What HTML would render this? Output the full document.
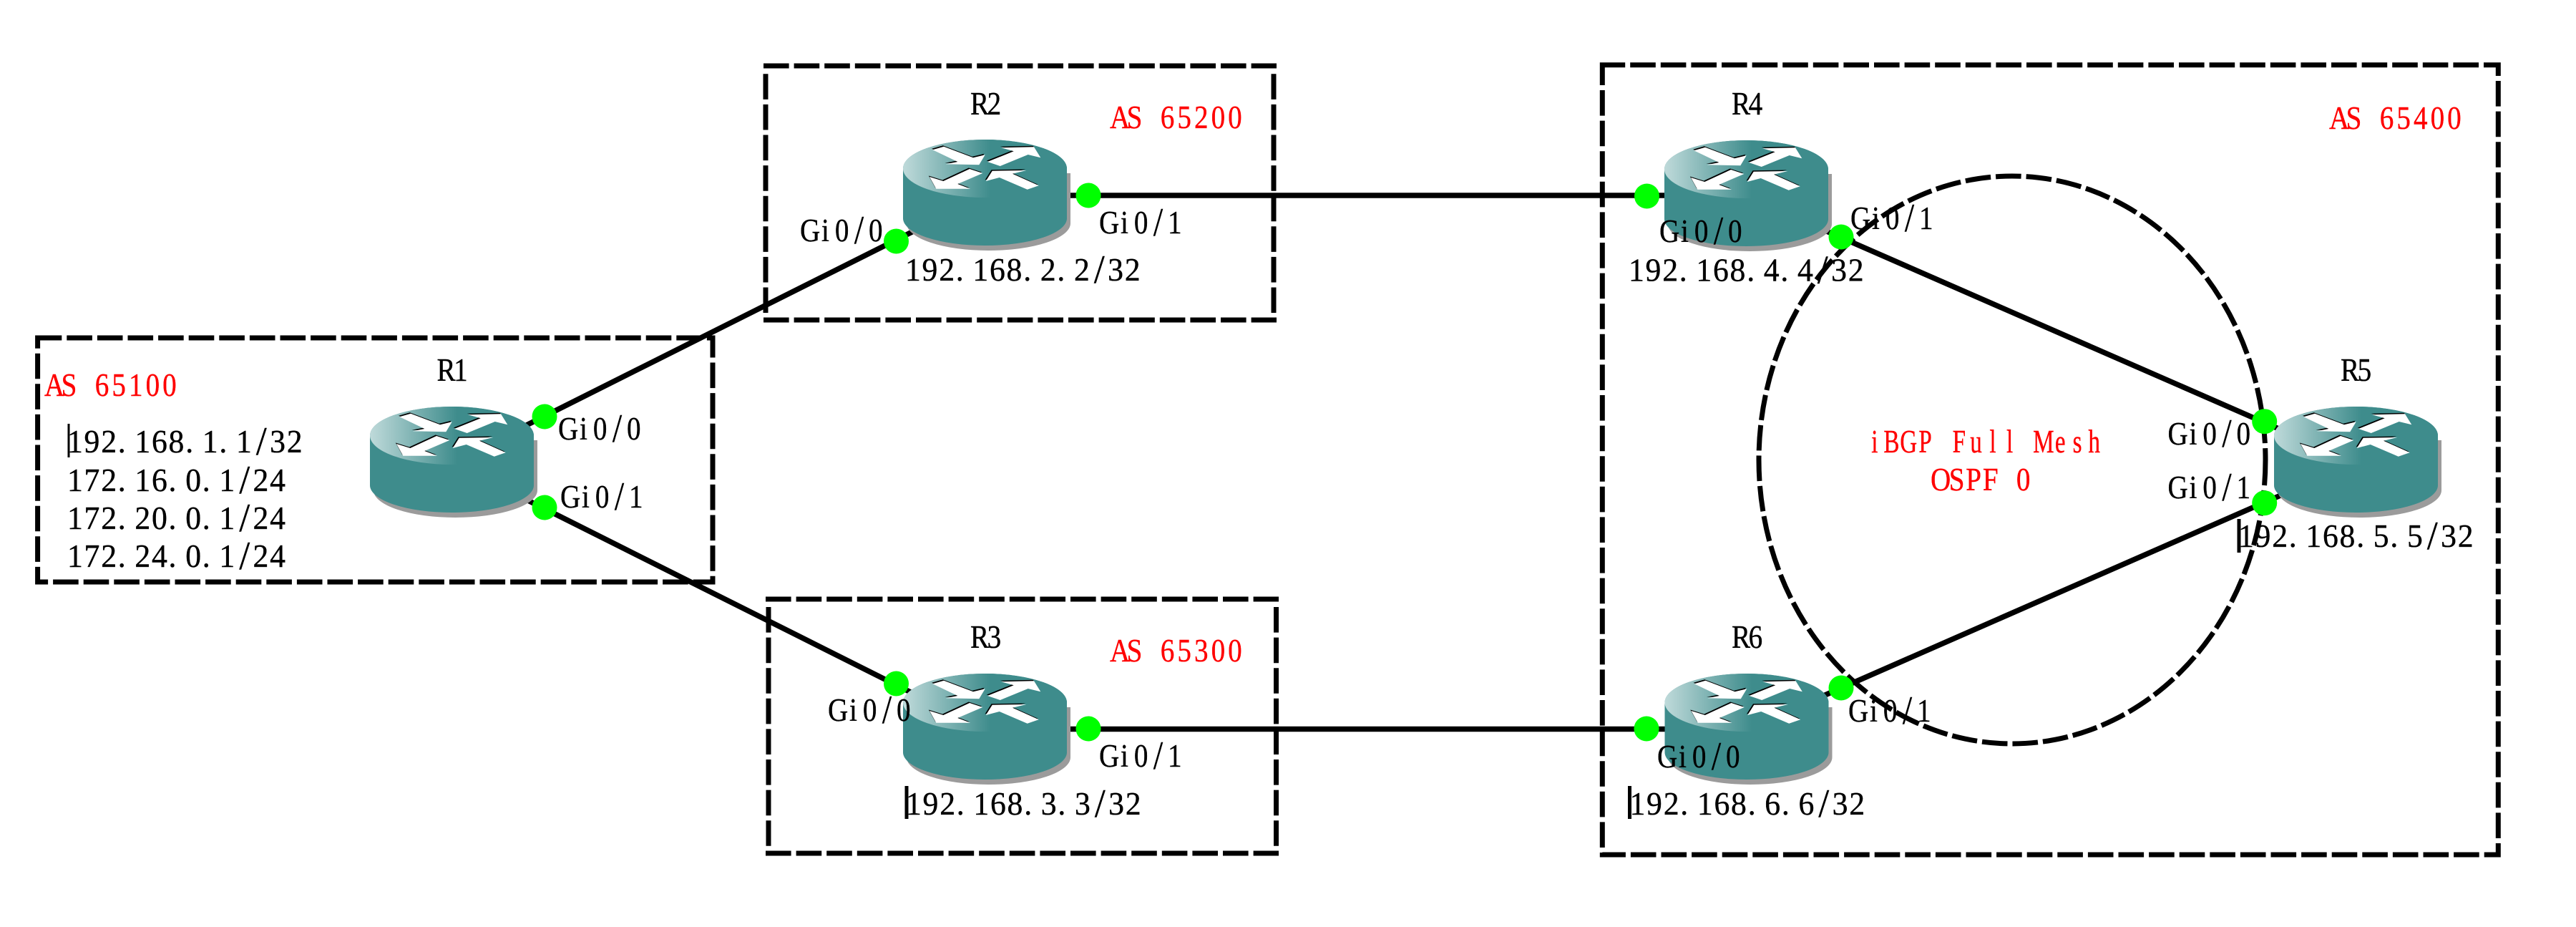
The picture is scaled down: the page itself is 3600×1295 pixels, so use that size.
<!DOCTYPE html>
<html>
<head>
<meta charset="utf-8">
<title>BGP topology</title>
<style>
html,body{margin:0;padding:0;background:#fff;}
svg{display:block;}
text{font-family:"Liberation Serif","Noto Serif CJK SC",serif;font-size:46px;fill:#000;stroke:#000;stroke-width:.4;}
text.r{fill:#f00;stroke:#f00;}
.box{fill:none;stroke:#000;stroke-width:7;stroke-dasharray:35.6 7;}
.ln{stroke:#000;stroke-width:7.5;fill:none;}
.dot{fill:#0f0;}
.s{font-size:56px;}
</style>
</head>
<body>
<svg width="3600" height="1295" viewBox="0 0 3600 1295" xmlns="http://www.w3.org/2000/svg">
<defs>
<linearGradient id="g" gradientUnits="userSpaceOnUse" x1="0" y1="0" x2="122" y2="0">
<stop offset="0" stop-color="#bfdada"/><stop offset="1" stop-color="#3e8c8c"/>
</linearGradient>
<g id="arrows">
<polygon points="41.3,14.3 57,9.7 98,25.3 114.7,21.3 106.3,35.3 59.7,34.3 76.3,31"/>
<polygon points="118,31 154.7,16.3 137,11.3 183,10.3 192.3,25.3 174.7,21 135.7,37"/>
<polygon points="111.3,47 93,41 56.3,58 37,52 46.3,68.7 94,68.7 76.3,62"/>
<polygon points="115.7,58 124.7,43.7 172.3,43 153,47.7 189.7,64.3 173.7,69.7 134.7,53"/>
</g>
<g id="router">
<path d="M5,47 V117 A114.5,38 0 0 0 234,117 V47 Z" fill="#9b9b9b"/>
<path d="M0,40.5 V110 A114.5,38 0 0 0 229,110 V40.5 A114.5,40.5 0 0 0 0,40.5 Z" fill="#3e8c8c"/>
<ellipse cx="114.5" cy="40.5" rx="114.5" ry="40.5" fill="url(#g)"/>
<use href="#arrows" x="-1.2" y="-1.5" fill="#000"/>
<use href="#arrows" fill="#fff"/>
</g>
</defs>

<rect width="3600" height="1295" fill="#fff"/>

<!-- AS boxes -->
<path class="box" d="M52.6,472 H996 V813 H52.6 Z" stroke-dashoffset="1.9"/>
<path class="box" d="M2239.3,90.7 H3491.3 V1194 H2239.3 Z" stroke-dashoffset="3.7"/>
<g class="box">
<line x1="1067" y1="92" x2="1784" y2="92"/>
<line x1="1067" y1="447" x2="1784" y2="447"/>
<line x1="1070" y1="103.3" x2="1070" y2="437"/>
<line x1="1780" y1="103.3" x2="1780" y2="437"/>
<line x1="1070" y1="837" x2="1787" y2="837"/>
<line x1="1070" y1="1192" x2="1787" y2="1192"/>
<line x1="1074" y1="848" x2="1074" y2="1182"/>
<line x1="1783.5" y1="848" x2="1783.5" y2="1182"/>
</g>

<!-- iBGP ellipse -->
<ellipse class="box" cx="2812" cy="642.5" rx="354" ry="396.5"/>

<!-- links -->
<g class="ln">
<line x1="632" y1="646" x2="1376.5" y2="273"/>
<line x1="632" y1="646" x2="1376.5" y2="1019"/>
<line x1="1376.5" y1="273" x2="2440.5" y2="273"/>
<line x1="1376.5" y1="1018.5" x2="2441" y2="1018.5"/>
<line x1="2440.5" y1="274" x2="3292" y2="646"/>
<line x1="2441" y1="1019" x2="3292" y2="646"/>
</g>

<!-- routers -->
<use href="#router" x="517" y="568"/>
<use href="#router" x="1262" y="195"/>
<use href="#router" x="1262" y="941"/>
<use href="#router" x="2326" y="196"/>
<use href="#router" x="3178" y="568"/>
<use href="#router" x="2326.5" y="941"/>

<!-- interface dots -->
<g class="dot">
<circle cx="761" cy="582" r="17.5"/>
<circle cx="761" cy="709" r="17.5"/>
<circle cx="1252.5" cy="337" r="17.5"/>
<circle cx="1521" cy="273" r="17.5"/>
<circle cx="1252.5" cy="955" r="17.5"/>
<circle cx="1521" cy="1018" r="17.5"/>
<circle cx="2301.5" cy="274" r="17.5"/>
<circle cx="2573" cy="331" r="17.5"/>
<circle cx="3164.7" cy="588.7" r="17.5"/>
<circle cx="3164.7" cy="702.7" r="17.5"/>
<circle cx="2301" cy="1018" r="17.5"/>
<circle cx="2573" cy="961" r="17.5"/>
</g>

<!-- text cursors -->
<rect x="94.5" y="592" width="3" height="47" fill="#000"/>
<rect x="1264.5" y="1098" width="5" height="46" fill="#000"/>
<rect x="3126.5" y="725" width="5" height="47" fill="#000"/>
<rect x="2275" y="1098" width="5" height="46" fill="#000"/>

<!-- IP labels -->
<g>
<text transform="translate(94,632) scale(.95,1)" x="0 24.8 49.7 74.5 99.4 124.2 149 173.9 198.7 223.6 248.4 277.8 298.1 322.9">192.168.1.1<tspan class="s" dy="3">/</tspan><tspan dy="-3">32</tspan></text>
<text transform="translate(94,686) scale(.95,1)" x="0 24.8 49.7 74.5 99.4 124.2 149 173.9 198.7 223.6 253 273.2 298.1">172.16.0.1<tspan class="s" dy="3">/</tspan><tspan dy="-3">24</tspan></text>
<text transform="translate(94,739) scale(.95,1)" x="0 24.8 49.7 74.5 99.4 124.2 149 173.9 198.7 223.6 253 273.2 298.1">172.20.0.1<tspan class="s" dy="3">/</tspan><tspan dy="-3">24</tspan></text>
<text transform="translate(94,792) scale(.95,1)" x="0 24.8 49.7 74.5 99.4 124.2 149 173.9 198.7 223.6 253 273.2 298.1">172.24.0.1<tspan class="s" dy="3">/</tspan><tspan dy="-3">24</tspan></text>
<text transform="translate(1265,392) scale(.95,1)" x="0 24.8 49.7 74.5 99.4 124.2 149 173.9 198.7 223.6 248.4 277.8 298.1 322.9">192.168.2.2<tspan class="s" dy="3">/</tspan><tspan dy="-3">32</tspan></text>
<text transform="translate(1266,1138) scale(.95,1)" x="0 24.8 49.7 74.5 99.4 124.2 149 173.9 198.7 223.6 248.4 277.8 298.1 322.9">192.168.3.3<tspan class="s" dy="3">/</tspan><tspan dy="-3">32</tspan></text>
<text transform="translate(2276,392.5) scale(.95,1)" x="0 24.8 49.7 74.5 99.4 124.2 149 173.9 198.7 223.6 248.4 277.8 298.1 322.9">192.168.4.4<tspan class="s" dy="3">/</tspan><tspan dy="-3">32</tspan></text>
<text transform="translate(3128,764) scale(.95,1)" x="0 24.8 49.7 74.5 99.4 124.2 149 173.9 198.7 223.6 248.4 277.8 298.1 322.9">192.168.5.5<tspan class="s" dy="3">/</tspan><tspan dy="-3">32</tspan></text>
<text transform="translate(2277.5,1138) scale(.95,1)" x="0 24.8 49.7 74.5 99.4 124.2 149 173.9 198.7 223.6 248.4 277.8 298.1 322.9">192.168.6.6<tspan class="s" dy="3">/</tspan><tspan dy="-3">32</tspan></text>
</g>

<!-- router names -->
<text transform="translate(610.5,532) scale(.85,1)" x="0 27.8">R1</text>
<text transform="translate(1356,160) scale(.85,1)" x="0 27.8">R2</text>
<text transform="translate(1356,905) scale(.85,1)" x="0 27.8">R3</text>
<text transform="translate(2420,160) scale(.85,1)" x="0 27.8">R4</text>
<text transform="translate(3271,532) scale(.85,1)" x="0 27.8">R5</text>
<text transform="translate(2420,905) scale(.85,1)" x="0 27.8">R6</text>

<!-- interface names -->
<text transform="translate(780,614) scale(.85,1)" x="0 35.3 57.5 89.3 113">Gi0<tspan class="s" dy="3">/</tspan><tspan dy="-3">0</tspan></text>
<text transform="translate(783,709) scale(.85,1)" x="0 35.3 57.5 89.3 113">Gi0<tspan class="s" dy="3">/</tspan><tspan dy="-3">1</tspan></text>
<text transform="translate(1118,337) scale(.85,1)" x="0 35.3 57.5 89.3 113">Gi0<tspan class="s" dy="3">/</tspan><tspan dy="-3">0</tspan></text>
<text transform="translate(1536,326) scale(.85,1)" x="0 35.3 57.5 89.3 113">Gi0<tspan class="s" dy="3">/</tspan><tspan dy="-3">1</tspan></text>
<text transform="translate(1157,1007) scale(.85,1)" x="0 35.3 57.5 89.3 113">Gi0<tspan class="s" dy="3">/</tspan><tspan dy="-3">0</tspan></text>
<text transform="translate(1536,1071) scale(.85,1)" x="0 35.3 57.5 89.3 113">Gi0<tspan class="s" dy="3">/</tspan><tspan dy="-3">1</tspan></text>
<text transform="translate(2319,338) scale(.85,1)" x="0 35.3 57.5 89.3 113">Gi0<tspan class="s" dy="3">/</tspan><tspan dy="-3">0</tspan></text>
<text transform="translate(2586,320) scale(.85,1)" x="0 35.3 57.5 89.3 113">Gi0<tspan class="s" dy="3">/</tspan><tspan dy="-3">1</tspan></text>
<text transform="translate(3029.5,621) scale(.85,1)" x="0 35.3 57.5 89.3 113">Gi0<tspan class="s" dy="3">/</tspan><tspan dy="-3">0</tspan></text>
<text transform="translate(3029.5,696) scale(.85,1)" x="0 35.3 57.5 89.3 113">Gi0<tspan class="s" dy="3">/</tspan><tspan dy="-3">1</tspan></text>
<text transform="translate(2316,1072) scale(.85,1)" x="0 35.3 57.5 89.3 113">Gi0<tspan class="s" dy="3">/</tspan><tspan dy="-3">0</tspan></text>
<text transform="translate(2583,1008) scale(.85,1)" x="0 35.3 57.5 89.3 113">Gi0<tspan class="s" dy="3">/</tspan><tspan dy="-3">1</tspan></text>

<!-- red labels -->
<text class="r" transform="translate(62,553) scale(.85,1)" x="0 27.8 55.5 83.3 111 138.8 166.6 194.3">AS 65100</text>
<text class="r" transform="translate(1551,179) scale(.85,1)" x="0 27.8 55.5 83.3 111 138.8 166.6 194.3">AS 65200</text>
<text class="r" transform="translate(1551,924) scale(.85,1)" x="0 27.8 55.5 83.3 111 138.8 166.6 194.3">AS 65300</text>
<text class="r" transform="translate(3255,180) scale(.85,1)" x="0 27.8 55.5 83.3 111 138.8 166.6 194.3">AS 65400</text>
<text class="r" transform="translate(2608,632) scale(.72,1)" x="10 33.8 65.6 101.9 131.1 167.5 201.7 239.4 272.2 295 323.8 366.5 400.8 431.1">iBGP Full Mesh</text>
<text class="r" transform="translate(2698,685) scale(.85,1)" x="0 30.3 58 85.8 111 141">OSPF 0</text>
</svg>
</body>
</html>
